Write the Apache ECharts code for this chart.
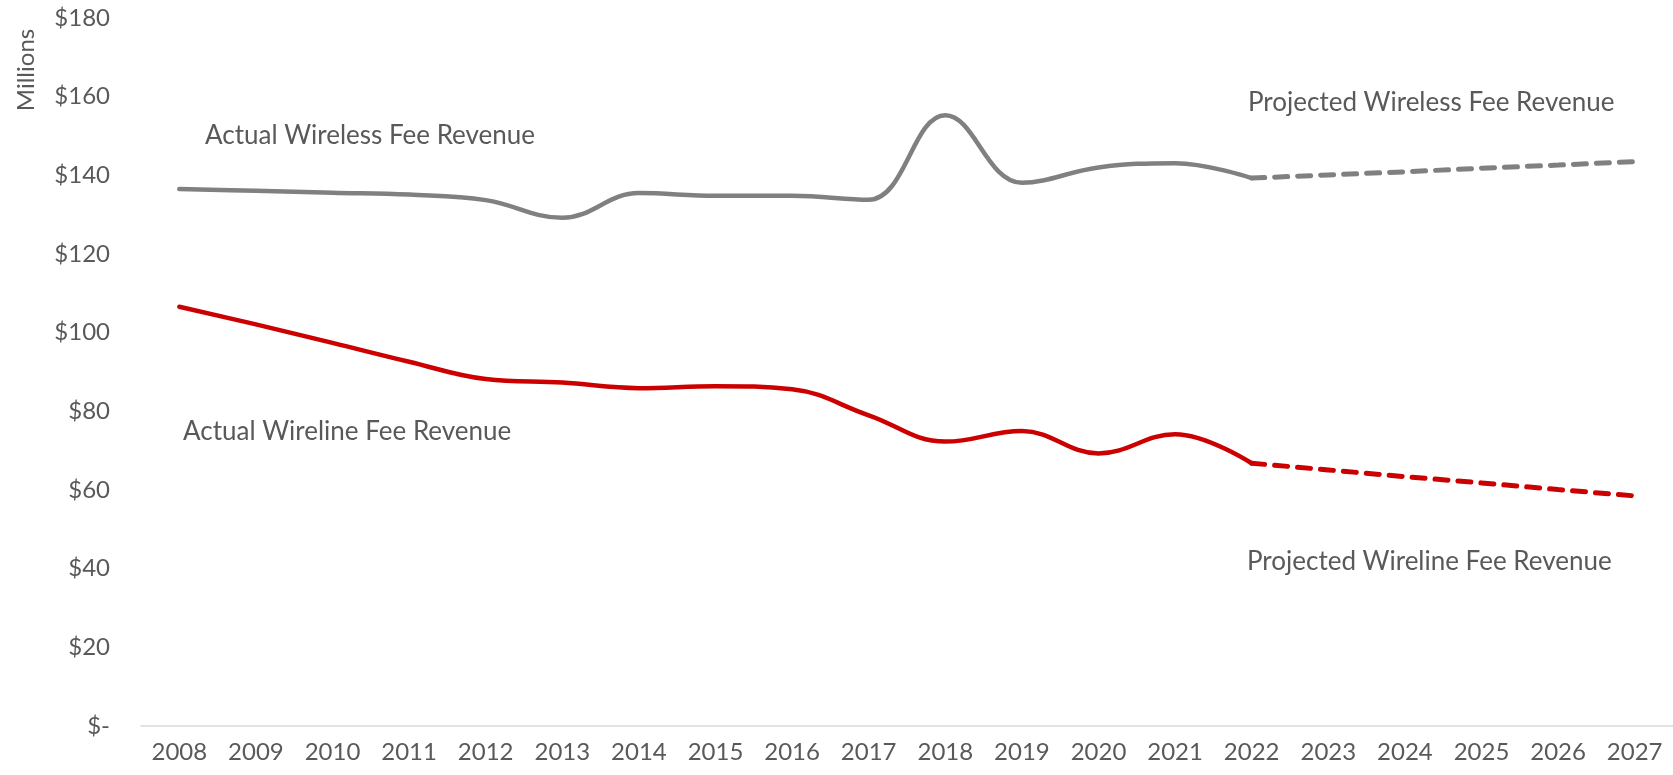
<!DOCTYPE html>
<html>
<head>
<meta charset="utf-8">
<script src="https://cdn.jsdelivr.net/npm/echarts@6/dist/echarts.min.js"></script>
<style>
  html, body { margin: 0; padding: 0; background: #ffffff; }
  #chart { width: 1673px; height: 775px; }
</style>
</head>
<body>
<div id="chart"></div>
<script>
// Fee revenue, millions of dollars
const years = ['2008','2009','2010','2011','2012','2013','2014','2015','2016','2017',
               '2018','2019','2020','2021','2022','2023','2024','2025','2026','2027'];

// Actual figures 2008-2022
const wirelessActual = [136.5, 136.1, 135.6, 135.1, 133.7, 129.2, 135.5, 134.8, 134.8, 133.8,
                        155.3, 138.1, 142.0, 143.1, 139.3];
const wirelineActual = [106.6, 102.1, 97.4, 92.6, 88.2, 87.3, 85.9, 86.4, 85.6, 79.0,
                        72.3, 75.0, 69.3, 74.2, 66.8];

// Projections 2022-2027
const wirelessProjected = [139.3, 140.1, 140.9, 141.8, 142.6, 143.5];
const wirelineProjected = [66.8, 65.1, 63.4, 61.8, 60.1, 58.5];

const yTicks = [0, 20, 40, 60, 80, 100, 120, 140, 160, 180];

const GRAY = '#808080';
const RED = '#CC0000';
const TEXT = '#595959';
const FONT = 'Lato';

// Pad the series so each lines up with the year axis
function padActual(vals) {
  return years.map((y, i) => (i < vals.length ? vals[i] : null));
}
function padProjected(vals) {
  const start = years.length - vals.length;
  return years.map((y, i) => (i >= start ? vals[i - start] : null));
}

const chart = echarts.init(document.getElementById('chart'), null, { renderer: 'canvas' });

chart.setOption({
  animation: false,
  backgroundColor: '#ffffff',
  grid: { left: 141, right: 0, top: 18, bottom: 49, containLabel: false },
  xAxis: {
    type: 'category',
    data: years,
    boundaryGap: true,
    axisLine: { show: true, lineStyle: { color: '#d9d9d9', width: 1.5 } },
    axisTick: { show: false },
    axisLabel: { color: TEXT, fontFamily: FONT, fontSize: 24, margin: 14, interval: 0 },
    splitLine: { show: false }
  },
  yAxis: {
    type: 'value',
    min: yTicks[0],
    max: yTicks[yTicks.length - 1],
    interval: yTicks[1] - yTicks[0],
    axisLine: { show: false },
    axisTick: { show: false },
    splitLine: { show: false },
    axisLabel: {
      color: TEXT, fontFamily: FONT, fontSize: 24, margin: 31,
      formatter: v => (v === 0 ? '$-' : '$' + v)
    }
  },
  series: [
    {
      name: 'Actual Wireless Fee Revenue',
      type: 'line',
      data: padActual(wirelessActual),
      smooth: 0.4,
      symbol: 'none',
      lineStyle: { color: GRAY, width: 4.5, cap: 'round', join: 'round' },
      z: 3
    },
    {
      name: 'Projected Wireless Fee Revenue',
      type: 'line',
      data: padProjected(wirelessProjected),
      symbol: 'none',
      lineStyle: { color: GRAY, width: 5, type: [13, 10], cap: 'round' },
      z: 2
    },
    {
      name: 'Actual Wireline Fee Revenue',
      type: 'line',
      data: padActual(wirelineActual),
      smooth: 0.4,
      symbol: 'none',
      lineStyle: { color: RED, width: 4.5, cap: 'round', join: 'round' },
      z: 3
    },
    {
      name: 'Projected Wireline Fee Revenue',
      type: 'line',
      data: padProjected(wirelineProjected),
      symbol: 'none',
      lineStyle: { color: RED, width: 5, type: [13, 10], cap: 'round' },
      z: 2
    }
  ],
  graphic: [
    {
      type: 'text', x: 26, y: 70, rotation: Math.PI / 2,
      style: { text: 'Millions', fill: TEXT, font: '24px ' + FONT, textAlign: 'center', textVerticalAlign: 'middle' }
    },
    {
      type: 'text', x: 205, y: 136,
      style: { text: 'Actual Wireless Fee Revenue', fill: TEXT, font: '26px ' + FONT, textVerticalAlign: 'middle' }
    },
    {
      type: 'text', x: 183, y: 432,
      style: { text: 'Actual Wireline Fee Revenue', fill: TEXT, font: '26px ' + FONT, textVerticalAlign: 'middle' }
    },
    {
      type: 'text', x: 1248, y: 103,
      style: { text: 'Projected Wireless Fee Revenue', fill: TEXT, font: '26px ' + FONT, textVerticalAlign: 'middle' }
    },
    {
      type: 'text', x: 1247, y: 562,
      style: { text: 'Projected Wireline Fee Revenue', fill: TEXT, font: '26px ' + FONT, textVerticalAlign: 'middle' }
    }
  ]
});
</script>
</body>
</html>
